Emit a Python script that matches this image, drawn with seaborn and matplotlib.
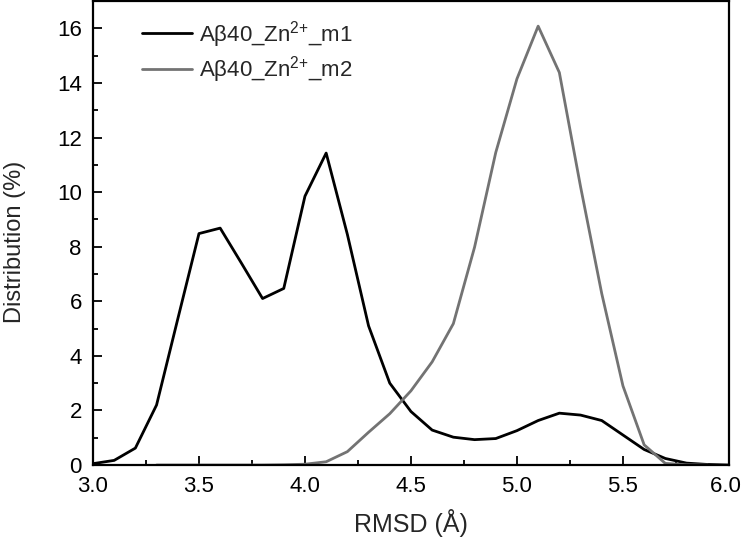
import numpy as np
import pandas as pd
import matplotlib
matplotlib.use("Agg")
import matplotlib.pyplot as plt
import seaborn as sns
from matplotlib.ticker import MultipleLocator, FuncFormatter

# RMSD histogram data
rmsd_m1 = [3.0, 3.1, 3.2, 3.3, 3.4, 3.5, 3.6, 3.7, 3.8, 3.9, 4.0, 4.1, 4.2, 4.3, 4.4,
           4.5, 4.6, 4.7, 4.8, 4.9, 5.0, 5.1, 5.2, 5.3, 5.4, 5.5, 5.6, 5.7, 5.8, 5.9, 6.0]
dist_m1 = [0.05, 0.17, 0.62, 2.2, 5.35, 8.48, 8.68, 7.4, 6.1, 6.47, 9.85, 11.43, 8.45, 5.1, 3.0,
           1.96, 1.28, 1.02, 0.93, 0.97, 1.26, 1.63, 1.9, 1.83, 1.63, 1.1, 0.57, 0.24, 0.07, 0.02, 0.0]

rmsd_m2 = [3.3, 3.4, 3.5, 3.6, 3.7, 3.8, 3.9, 4.0, 4.1, 4.2, 4.3, 4.4, 4.5, 4.6, 4.7,
           4.8, 4.9, 5.0, 5.1, 5.2, 5.3, 5.4, 5.5, 5.6, 5.7, 5.8, 5.9]
dist_m2 = [0.0, 0.0, 0.0, 0.0, 0.0, 0.0, 0.01, 0.03, 0.12, 0.49, 1.2, 1.88, 2.72, 3.78, 5.18,
           7.98, 11.45, 14.15, 16.08, 14.38, 10.2, 6.28, 2.9, 0.74, 0.06, 0.01, 0.0]

labels = ["A\u03b240_Zn$^{2{+}}$_m1", "A\u03b240_Zn$^{2{+}}$_m2"]
colors = ["#000000", "#737373"]

sns.set_style("ticks")
plt.rcParams["font.family"] = ["Liberation Sans", "DejaVu Sans"]
plt.rcParams["mathtext.fontset"] = "custom"
plt.rcParams["mathtext.rm"] = "Liberation Sans"

fig = plt.figure(figsize=(7.42, 5.43), dpi=100)
ax = fig.add_axes([0.1253, 0.1436, 0.8571, 0.8545])

sns.lineplot(x=rmsd_m1, y=dist_m1, ax=ax, color=colors[0], lw=2.0, label=labels[0])
sns.lineplot(x=rmsd_m2, y=dist_m2, ax=ax, color=colors[1], lw=2.0, label=labels[1])

ax.set_xlim(3.0, 6.0)
ax.set_ylim(0, 17.0)
ax.xaxis.set_major_locator(MultipleLocator(0.5))
ax.xaxis.set_minor_locator(MultipleLocator(0.25))
ax.yaxis.set_major_locator(MultipleLocator(2))
ax.yaxis.set_minor_locator(MultipleLocator(1))


def xfmt(v, pos):
    # trailing space on the last label pulls it a little away from the figure edge
    return f"{v:.1f} " if v >= 5.99 else f"{v:.1f}"


ax.xaxis.set_major_formatter(FuncFormatter(xfmt))
ax.tick_params(which="both", direction="in", top=False, right=False, colors="black",
               labelsize=16, pad=8)
ax.tick_params(which="major", length=6.5, width=1.3)
ax.tick_params(which="minor", length=3.6, width=1.3)
for s in ax.spines.values():
    s.set_linewidth(1.6)
    s.set_color("black")

ax.set_xlabel("RMSD (\u00c5)", fontsize=18)
ax.set_ylabel("Distribution (%)", fontsize=17)
ax.xaxis.set_label_coords(0.5, -0.095)
ax.yaxis.set_label_coords(-0.106, 0.48)

leg = ax.legend(loc="upper left", frameon=False, fontsize=16, handlelength=2.25,
                handletextpad=0.3, bbox_to_anchor=(0.077, 0.962), borderaxespad=0,
                borderpad=0, labelspacing=0.2)

fig.savefig("out.png", dpi=100)
